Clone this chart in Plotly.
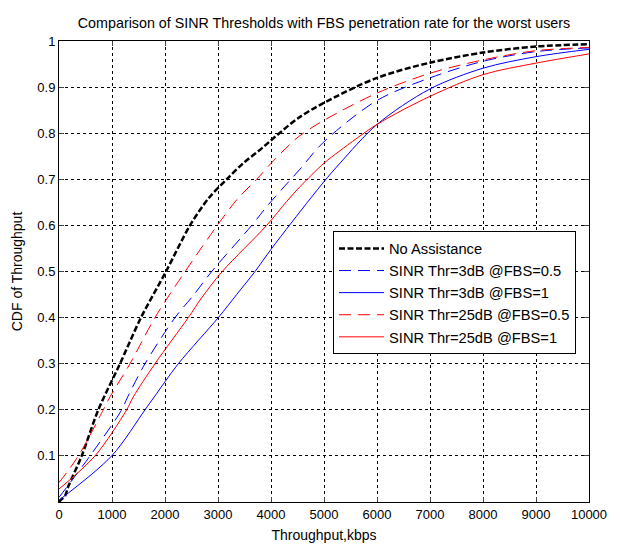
import plotly.graph_objects as go

# ---- data ----
x_none = [0, 50, 113, 176, 428, 742, 1151, 1547, 2019, 2472, 2817, 3164, 3478, 3855, 4107, 4516, 5000, 6000, 7000, 8000, 9000, 10000]
y_none = [0.0, 0.006, 0.013, 0.034, 0.1, 0.2, 0.3, 0.4, 0.5, 0.6, 0.658, 0.70, 0.735, 0.770, 0.795, 0.833, 0.866, 0.92, 0.953, 0.975, 0.988, 0.993]

x_3db_05 = [0, 585, 1183, 1296, 1623, 2189, 2534, 2881, 3636, 3950, 4296, 4547, 4987, 6000, 7000, 8000, 9000, 10000]
y_3db_05 = [0.01, 0.1, 0.2, 0.228, 0.3, 0.4, 0.448, 0.5, 0.6, 0.645, 0.69, 0.722, 0.78, 0.871, 0.92, 0.956, 0.977, 0.985]

x_3db_1 = [0, 994, 1623, 1798, 2252, 3006, 3352, 3698, 4000, 4380, 4755, 5000, 5302, 6000, 7000, 8000, 9000, 10000]
y_3db_1 = [0.004, 0.1, 0.2, 0.228, 0.3, 0.4, 0.45, 0.5, 0.548, 0.605, 0.66, 0.695, 0.735, 0.819, 0.896, 0.941, 0.966, 0.982]

x_25db_05 = [0, 365, 836, 962, 1340, 1811, 2380, 2987, 3371, 3730, 4044, 4453, 4610, 5000, 6000, 7000, 8000, 9000, 10000]
y_25db_05 = [0.042, 0.1, 0.2, 0.228, 0.3, 0.4, 0.5, 0.6, 0.658, 0.70, 0.740, 0.786, 0.80, 0.828, 0.887, 0.93, 0.959, 0.979, 0.986]

x_25db_1 = [0, 679, 1277, 1402, 1811, 2440, 2692, 3080, 3918, 4296, 4547, 5000, 5302, 6000, 7000, 8000, 9000, 10000]
y_25db_1 = [0.028, 0.1, 0.2, 0.228, 0.3, 0.4, 0.443, 0.5, 0.6, 0.652, 0.684, 0.735, 0.762, 0.819, 0.88, 0.927, 0.952, 0.972]

x_ticks = [0, 1000, 2000, 3000, 4000, 5000, 6000, 7000, 8000, 9000, 10000]
x_ticktext = ["0", "1000", "2000", "3000", "4000", "5000", "6000", "7000", "8000", "9000", "10000"]
y_ticks = [0.1, 0.2, 0.3, 0.4, 0.5, 0.6, 0.7, 0.8, 0.9, 1.0]
y_ticktext = ["0.1", "0.2", "0.3", "0.4", "0.5", "0.6", "0.7", "0.8", "0.9", "1"]

FONT = "Liberation Sans, Arial, sans-serif"
SM = 0.9

fig = go.Figure()
fig.add_trace(go.Scatter(x=x_none, y=y_none, mode="lines", name="No Assistance",
                         line=dict(color="black", width=2.5, dash="6px,2.5px", shape="spline", smoothing=SM)))
fig.add_trace(go.Scatter(x=x_3db_05, y=y_3db_05, mode="lines", name="SINR Thr=3dB @FBS=0.5",
                         line=dict(color="#0000ff", width=1, dash="12px,7px", shape="spline", smoothing=SM)))
fig.add_trace(go.Scatter(x=x_3db_1, y=y_3db_1, mode="lines", name="SINR Thr=3dB @FBS=1",
                         line=dict(color="#0000ff", width=1, shape="spline", smoothing=SM)))
fig.add_trace(go.Scatter(x=x_25db_05, y=y_25db_05, mode="lines", name="SINR Thr=25dB @FBS=0.5",
                         line=dict(color="#ff0000", width=1, dash="12px,7px", shape="spline", smoothing=SM)))
fig.add_trace(go.Scatter(x=x_25db_1, y=y_25db_1, mode="lines", name="SINR Thr=25dB @FBS=1",
                         line=dict(color="#ff0000", width=1, shape="spline", smoothing=SM)))

fig.update_layout(
    width=621, height=552,
    margin=dict(l=59, r=32, t=41, b=46),
    paper_bgcolor="white", plot_bgcolor="white",
    font=dict(family=FONT, size=13, color="black"),
    title=dict(text="Comparison of SINR Thresholds with FBS penetration rate for the worst users",
               x=(59 + 265) / 621, xanchor="center", y=1 - 23 / 552, yanchor="middle",
               font=dict(size=14.3)),
    showlegend=True,
    legend=dict(x=(333 - 59) / 530, y=(506 - 233) / 465, xanchor="left", yanchor="top",
                bgcolor="white", bordercolor="black", borderwidth=1,
                font=dict(size=14.7), tracegroupgap=0, itemwidth=45),
)
fig.update_xaxes(range=[0, 10000], tickvals=x_ticks, ticktext=x_ticktext, ticks="inside", ticklen=5,
                 showline=True, linecolor="black", linewidth=1, mirror="allticks",
                 showgrid=True, gridcolor="black", griddash="dot", gridwidth=1,
                 zeroline=False, tickfont=dict(size=13),
                 title=dict(text="Throughput,kbps", font=dict(size=14), standoff=9))
fig.update_yaxes(range=[0, 1], tickvals=y_ticks, ticktext=y_ticktext, ticks="inside", ticklen=5,
                 showline=True, linecolor="black", linewidth=1, mirror="allticks",
                 showgrid=True, gridcolor="black", griddash="dot", gridwidth=1,
                 zeroline=False, tickfont=dict(size=13),
                 title=dict(text="CDF of Throughput", font=dict(size=14), standoff=11))

fig.write_html("out.html")
